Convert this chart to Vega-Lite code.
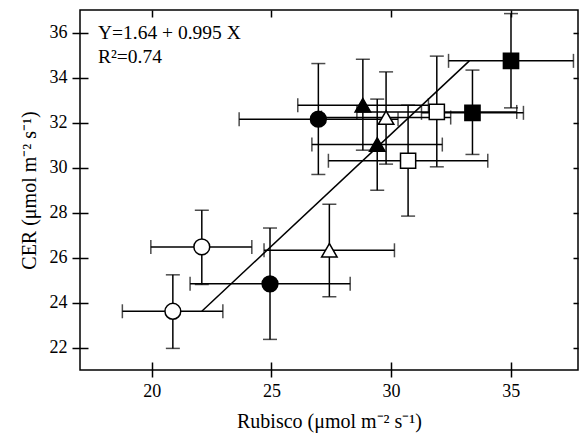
{
  "$schema": "https://vega.github.io/schema/vega-lite/v6.json",
  "width": 498,
  "height": 360,
  "autosize": "none",
  "padding": {"left": 80, "top": 10, "right": 1, "bottom": 71},
  "background": "white",
  "config": {
    "view": {"stroke": "black", "strokeWidth": 1.5},
    "axis": {
      "labelFont": "Liberation Serif",
      "titleFont": "Liberation Serif",
      "labelFontSize": 18,
      "titleFontSize": 20,
      "titleFontWeight": "normal",
      "labelColor": "black",
      "titleColor": "black",
      "tickColor": "black",
      "tickWidth": 1.5,
      "grid": false
    }
  },
  "datasets": {
    "pts": [
      {"x": 20.88, "y": 23.61, "xlo": 18.77, "xhi": 22.97, "ylo": 21.96, "yhi": 25.23, "shape": "circle", "fill": "open"},
      {"x": 22.09, "y": 26.47, "xlo": 19.96, "xhi": 24.18, "ylo": 24.8, "yhi": 28.1, "shape": "circle", "fill": "open"},
      {"x": 24.94, "y": 24.83, "xlo": 21.6, "xhi": 28.29, "ylo": 22.36, "yhi": 27.31, "shape": "circle", "fill": "filled"},
      {"x": 27.42, "y": 26.32, "xlo": 24.69, "xhi": 30.14, "ylo": 24.26, "yhi": 28.37, "shape": "triangle-up", "fill": "open"},
      {"x": 26.96, "y": 32.15, "xlo": 23.65, "xhi": 30.29, "ylo": 29.69, "yhi": 34.62, "shape": "circle", "fill": "filled"},
      {"x": 28.82, "y": 32.77, "xlo": 26.1, "xhi": 31.56, "ylo": 30.77, "yhi": 34.81, "shape": "triangle-up", "fill": "filled"},
      {"x": 29.79, "y": 32.22, "xlo": 27.09, "xhi": 32.49, "ylo": 30.15, "yhi": 34.25, "shape": "triangle-up", "fill": "open"},
      {"x": 29.42, "y": 31.02, "xlo": 26.69, "xhi": 32.14, "ylo": 28.99, "yhi": 33.04, "shape": "triangle-up", "fill": "filled"},
      {"x": 30.71, "y": 30.3, "xlo": 27.38, "xhi": 34.04, "ylo": 27.84, "yhi": 32.77, "shape": "square", "fill": "open"},
      {"x": 31.91, "y": 32.47, "xlo": 28.57, "xhi": 35.25, "ylo": 30.03, "yhi": 34.95, "shape": "square", "fill": "open"},
      {"x": 33.4, "y": 32.43, "xlo": 31.27, "xhi": 35.53, "ylo": 30.58, "yhi": 34.33, "shape": "square", "fill": "filled"},
      {"x": 35.01, "y": 34.74, "xlo": 32.4, "xhi": 37.62, "ylo": 32.65, "yhi": 36.84, "shape": "square", "fill": "filled"}
    ],
    "fit": [
      {"x": 22.09, "y": 23.61},
      {"x": 33.27, "y": 34.74}
    ],
    "ann": [
      {"x": 17.75, "y": 36.0, "t": "Y=1.64 + 0.995 X"},
      {"x": 17.75, "y": 34.92, "t": "R²=0.74"}
    ]
  },
  "layer": [
    {
      "data": {"name": "pts"},
      "mark": {"type": "rule", "color": "black", "strokeWidth": 1.5},
      "encoding": {
        "x": {"field": "x", "type": "quantitative",
          "scale": {"domain": [17, 37.81], "nice": false, "zero": false},
          "axis": {"orient": "bottom", "values": [20, 25, 30, 35], "domain": false, "offset": -8, "tickSize": 15, "labelPadding": 5, "title": "Rubisco (μmol m⁻² s⁻¹)", "titlePadding": 11}},
        "y": {"field": "ylo", "type": "quantitative",
          "scale": {"domain": [21, 37], "nice": false, "zero": false},
          "axis": {"orient": "left", "values": [22, 24, 26, 28, 30, 32, 34, 36], "domain": false, "offset": -8, "tickSize": 16, "labelPadding": 5, "title": "CER (μmol m⁻² s⁻¹)", "titlePadding": 10}},
        "y2": {"field": "yhi"}
      }
    },
    {
      "data": {"name": "pts"},
      "mark": {"type": "rule", "color": "black", "strokeWidth": 1.5},
      "encoding": {
        "x": {"field": "xlo", "type": "quantitative", "axis": null},
        "x2": {"field": "xhi"},
        "y": {"field": "y", "type": "quantitative", "axis": null}
      }
    },
    {
      "data": {"name": "pts"},
      "mark": {"type": "tick", "orient": "horizontal", "color": "black", "size": 14, "thickness": 1.5},
      "encoding": {
        "x": {"field": "x", "type": "quantitative", "axis": null},
        "y": {"field": "ylo", "type": "quantitative", "axis": null}
      }
    },
    {
      "data": {"name": "pts"},
      "mark": {"type": "tick", "orient": "horizontal", "color": "black", "size": 14, "thickness": 1.5},
      "encoding": {
        "x": {"field": "x", "type": "quantitative", "axis": null},
        "y": {"field": "yhi", "type": "quantitative", "axis": null}
      }
    },
    {
      "data": {"name": "pts"},
      "mark": {"type": "tick", "orient": "vertical", "color": "black", "size": 14, "thickness": 1.5},
      "encoding": {
        "x": {"field": "xlo", "type": "quantitative", "axis": null},
        "y": {"field": "y", "type": "quantitative", "axis": null}
      }
    },
    {
      "data": {"name": "pts"},
      "mark": {"type": "tick", "orient": "vertical", "color": "black", "size": 14, "thickness": 1.5},
      "encoding": {
        "x": {"field": "xhi", "type": "quantitative", "axis": null},
        "y": {"field": "y", "type": "quantitative", "axis": null}
      }
    },
    {
      "data": {"name": "fit"},
      "mark": {"type": "line", "color": "black", "strokeWidth": 1.5},
      "encoding": {
        "x": {"field": "x", "type": "quantitative",
          "axis": {"orient": "top", "values": [20, 25, 30, 35], "domain": false, "labels": false, "offset": -7, "tickSize": 7, "title": null}},
        "y": {"field": "y", "type": "quantitative",
          "axis": {"orient": "right", "values": [22, 24, 26, 28, 30, 32, 34, 36], "domain": false, "labels": false, "offset": -5, "tickSize": 5, "title": null}}
      }
    },
    {
      "data": {"name": "pts"},
      "mark": {"type": "point", "stroke": "black", "strokeWidth": 1.5, "opacity": 1, "fillOpacity": 1},
      "encoding": {
        "x": {"field": "x", "type": "quantitative", "axis": null},
        "y": {"field": "y", "type": "quantitative", "axis": null},
        "shape": {"field": "shape", "type": "nominal", "scale": {"domain": ["circle", "triangle-up", "square"], "range": ["circle", "triangle-up", "square"]}, "legend": null},
        "fill": {"field": "fill", "type": "nominal", "scale": {"domain": ["filled", "open"], "range": ["black", "white"]}, "legend": null},
        "size": {"field": "shape", "type": "nominal", "scale": {"domain": ["circle", "triangle-up", "square"], "range": [250, 230, 200]}, "legend": null}
      }
    },
    {
      "data": {"name": "ann"},
      "mark": {"type": "text", "font": "Liberation Serif", "fontSize": 19.5, "align": "left", "baseline": "middle", "color": "black"},
      "encoding": {
        "x": {"field": "x", "type": "quantitative", "axis": null},
        "y": {"field": "y", "type": "quantitative", "axis": null},
        "text": {"field": "t"}
      }
    }
  ],
  "resolve": {"axis": {"x": "independent", "y": "independent"}}
}
